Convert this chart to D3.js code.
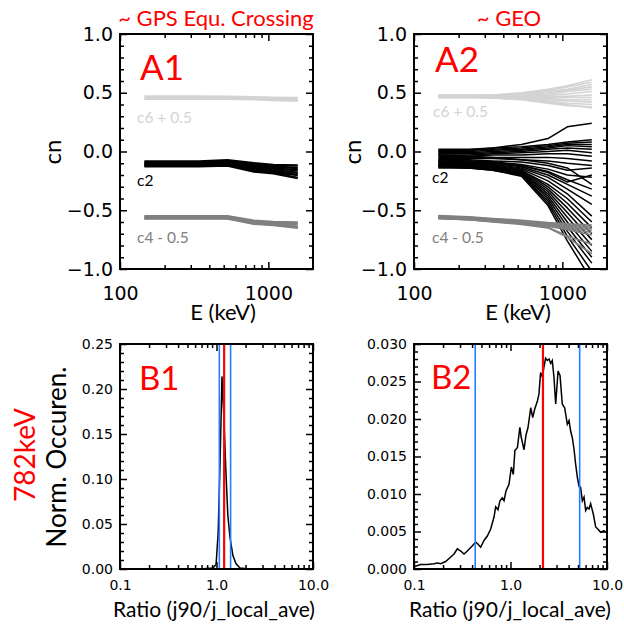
<!DOCTYPE html>
<html>
<head>
<meta charset="utf-8">
<title>cn and ratio</title>
<script src="https://cdn.jsdelivr.net/npm/d3@7"></script>
<style>
  body { margin: 0; background: #fff; }
  svg { display: block; }
  .tick text { font-family: 'DejaVu Sans', sans-serif; fill: #000; }
  .tick line { stroke: #000; stroke-width: 1.5; }
  .lbl { font-family: Lato, 'Open Sans', sans-serif; }
</style>
</head>
<body>
<div id="chart"></div>
<script>
// energies of the cn curves (keV)
var energies = [146, 235, 340, 530, 800, 1080, 1580];

// A1: GPS equatorial crossing
var a1C6 = [
  [0.468, 0.468, 0.468, 0.465, 0.462, 0.458, 0.455],
  [0.458, 0.458, 0.458, 0.455, 0.452, 0.446, 0.440],
  [0.450, 0.450, 0.450, 0.448, 0.445, 0.438, 0.432]
];
var a1C2 = [
  [-0.085, -0.085, -0.085, -0.075, -0.100, -0.115, -0.120],
  [-0.095, -0.095, -0.095, -0.085, -0.115, -0.130, -0.140],
  [-0.105, -0.105, -0.105, -0.095, -0.130, -0.145, -0.160],
  [-0.115, -0.115, -0.115, -0.105, -0.145, -0.160, -0.180],
  [-0.120, -0.120, -0.120, -0.115, -0.160, -0.175, -0.200],
  [-0.125, -0.125, -0.125, -0.120, -0.170, -0.185, -0.225]
];
var a1C4 = [
  [-0.550, -0.550, -0.550, -0.550, -0.590, -0.600, -0.605],
  [-0.558, -0.558, -0.558, -0.558, -0.600, -0.610, -0.620],
  [-0.565, -0.565, -0.565, -0.565, -0.610, -0.620, -0.640],
  [-0.570, -0.570, -0.570, -0.570, -0.615, -0.625, -0.650]
];

// A2: GEO
var a2C6 = [
  [0.480, 0.480, 0.480, 0.500, 0.530, 0.560, 0.610],
  [0.480, 0.480, 0.480, 0.490, 0.520, 0.550, 0.590],
  [0.475, 0.475, 0.480, 0.490, 0.510, 0.530, 0.570],
  [0.475, 0.475, 0.475, 0.485, 0.500, 0.520, 0.550],
  [0.470, 0.470, 0.475, 0.480, 0.490, 0.510, 0.530],
  [0.470, 0.470, 0.470, 0.475, 0.480, 0.490, 0.510],
  [0.470, 0.470, 0.470, 0.470, 0.470, 0.470, 0.480],
  [0.465, 0.465, 0.465, 0.465, 0.460, 0.460, 0.460],
  [0.465, 0.465, 0.465, 0.460, 0.450, 0.440, 0.440],
  [0.465, 0.465, 0.460, 0.455, 0.440, 0.430, 0.420],
  [0.460, 0.460, 0.460, 0.450, 0.430, 0.410, 0.400],
  [0.460, 0.460, 0.455, 0.445, 0.420, 0.400, 0.370],
  [0.460, 0.460, 0.455, 0.440, 0.410, 0.390, 0.380]
];
var a2C2 = [
  [0.00, 0.01, 0.03, 0.06, 0.11, 0.21, 0.24],
  [0.02, 0.02, 0.03, 0.04, 0.06, 0.08, 0.10],
  [0.01, 0.01, 0.02, 0.03, 0.05, 0.07, 0.08],
  [0.00, 0.00, 0.01, 0.02, 0.04, 0.06, 0.06],
  [-0.01, -0.01, 0.00, 0.01, 0.03, 0.05, 0.04],
  [-0.02, -0.02, -0.01, 0.00, 0.02, 0.03, 0.02],
  [-0.03, -0.03, -0.02, -0.01, 0.00, 0.01, -0.01],
  [-0.04, -0.04, -0.03, -0.03, -0.02, -0.02, -0.04],
  [-0.05, -0.05, -0.05, -0.05, -0.05, -0.06, -0.08],
  [-0.06, -0.06, -0.06, -0.07, -0.08, -0.10, -0.12],
  [-0.07, -0.07, -0.08, -0.09, -0.12, -0.16, -0.14],
  [-0.08, -0.08, -0.09, -0.11, -0.15, -0.20, -0.22],
  [-0.09, -0.09, -0.10, -0.12, -0.18, -0.26, -0.20],
  [-0.03, -0.04, -0.05, -0.07, -0.10, -0.14, -0.28],
  [-0.10, -0.10, -0.11, -0.15, -0.25, -0.36, -0.55],
  [-0.10, -0.11, -0.12, -0.16, -0.28, -0.40, -0.60],
  [-0.11, -0.11, -0.12, -0.16, -0.30, -0.44, -0.65],
  [-0.11, -0.12, -0.13, -0.17, -0.32, -0.48, -0.70],
  [-0.12, -0.12, -0.13, -0.18, -0.34, -0.52, -0.75],
  [-0.12, -0.13, -0.14, -0.18, -0.36, -0.56, -0.80],
  [-0.12, -0.13, -0.14, -0.19, -0.38, -0.60, -0.85],
  [-0.13, -0.13, -0.15, -0.19, -0.40, -0.64, -0.90],
  [-0.13, -0.14, -0.15, -0.20, -0.42, -0.68, -0.95],
  [-0.13, -0.14, -0.16, -0.20, -0.44, -0.72, -1.02],
  [-0.14, -0.14, -0.16, -0.21, -0.46, -0.76, -1.10],
  [-0.09, -0.10, -0.11, -0.14, -0.22, -0.32, -0.45],
  [-0.08, -0.09, -0.10, -0.13, -0.20, -0.28, -0.38],
  [-0.07, -0.08, -0.09, -0.12, -0.17, -0.24, -0.32]
];
var a2C4 = [
  [-0.545, -0.555, -0.570, -0.585, -0.605, -0.615, -0.625],
  [-0.550, -0.560, -0.575, -0.590, -0.610, -0.625, -0.640],
  [-0.555, -0.565, -0.580, -0.595, -0.615, -0.635, -0.655],
  [-0.560, -0.570, -0.585, -0.600, -0.620, -0.645, -0.670],
  [-0.565, -0.575, -0.590, -0.605, -0.630, -0.655, -0.690],
  [-0.570, -0.580, -0.595, -0.610, -0.635, -0.665, -0.710],
  [-0.570, -0.580, -0.595, -0.615, -0.645, -0.720, -0.790],
  [-0.570, -0.580, -0.600, -0.620, -0.650, -0.730, -0.870]
];

// B1 / B2: normalized occurrence of j90/j_local_ave at 782 keV
var b1Ratio = [0.1, 0.67, 0.92, 0.99, 1.04, 1.09, 1.14, 1.19, 1.25, 1.31, 1.38, 1.48, 1.59, 1.75, 2.2, 10];
var b1Occ   = [0, 0, 0.001, 0.005, 0.04, 0.12, 0.214, 0.17, 0.11, 0.06, 0.035, 0.015, 0.006, 0.001, 0, 0];
var b1Lines = { lo: 1.07, med: 1.20, hi: 1.40 };

var b2Ratio = [0.1, 0.117, 0.137, 0.161, 0.175, 0.189, 0.213, 0.240, 0.260, 0.281, 0.305, 0.330, 0.357,
  0.403, 0.436, 0.461, 0.491, 0.531, 0.575, 0.622, 0.674, 0.702, 0.741, 0.778, 0.822, 0.857, 0.898,
  0.965, 1.02, 1.07, 1.11, 1.18, 1.25, 1.29, 1.38, 1.45, 1.52, 1.62, 1.70, 1.78, 1.90, 1.97, 2.05,
  2.14, 2.22, 2.31, 2.41, 2.51, 2.61, 2.71, 2.82, 2.94, 3.11, 3.26, 3.44, 3.64, 3.88, 4.04, 4.20,
  4.37, 4.55, 4.73, 4.93, 5.13, 5.33, 5.55, 5.78, 6.01, 6.25, 6.51, 6.77, 7.22, 7.63, 8.07, 8.60,
  9.31, 9.69];
var b2Occ = [0.0003, 0.0006, 0.0006, 0.0007, 0.0008, 0.0007, 0.0010, 0.0016, 0.0020, 0.0027, 0.0024,
  0.0020, 0.0024, 0.0031, 0.0036, 0.0033, 0.0029, 0.0038, 0.0044, 0.0053, 0.0069, 0.0083, 0.0079,
  0.0091, 0.0095, 0.0091, 0.0104, 0.0113, 0.0136, 0.0126, 0.0158, 0.0162, 0.0189, 0.0176, 0.0159,
  0.0179, 0.0189, 0.0215, 0.0202, 0.0213, 0.0224, 0.0233, 0.0262, 0.0256, 0.0269, 0.0281, 0.0278,
  0.0280, 0.0274, 0.0278, 0.0256, 0.0220, 0.0264, 0.0258, 0.0220, 0.0215, 0.0193, 0.0198, 0.0184,
  0.0175, 0.0160, 0.0140, 0.0122, 0.0110, 0.0109, 0.0091, 0.0096, 0.0078, 0.0082, 0.0080, 0.0087,
  0.0073, 0.0056, 0.0053, 0.0049, 0.0051, 0.0049];
var b2Lines = { lo: 0.431, med: 2.17, hi: 5.21 };

var cnTicks = [-1, -0.5, 0, 0.5, 1];
var eTicks = [100, 1000];
var ratioTicks = [0.1, 1, 10];

var svg = d3.select('#chart').append('svg')
  .attr('width', 624).attr('height', 627);

var RED = '#ff0000', BLUE = '#1e7fff';

function makePanel(id, x0, x1, y0, y1, xDom, yDom) {
  var g = svg.append('g').attr('transform', 'translate(' + x0 + ',' + y0 + ')');
  var w = x1 - x0, h = y1 - y0;
  var x = d3.scaleLog().domain(xDom).range([0, w]);
  var y = d3.scaleLinear().domain(yDom).range([h, 0]);
  g.append('clipPath').attr('id', id).append('rect').attr('width', w).attr('height', h);
  var plot = g.append('g').attr('clip-path', 'url(#' + id + ')');
  return { g: g, plot: plot, x: x, y: y, w: w, h: h };
}

function logMinor(lo, hi) {
  var out = [];
  for (var d = lo; d < hi; d *= 10)
    for (var k = 2; k <= 9; k++) if (d * k < hi) out.push(d * k);
  return out;
}

function axes(p, o) {
  var g = p.g;
  var ax = g.append('g');
  var size = 7, msize = 4;
  ax.append('g').attr('transform', 'translate(0,' + p.h + ')')
    .call(d3.axisBottom(p.x).tickValues(o.xMajor).tickFormat(o.xFmt).tickSize(-size).tickPadding(o.xPad));
  ax.append('g').attr('transform', 'translate(0,' + p.h + ')')
    .call(d3.axisBottom(p.x).tickValues(o.xMinor).tickFormat('').tickSize(-msize));
  ax.append('g').call(d3.axisTop(p.x).tickValues(o.xMajor).tickFormat('').tickSize(-size));
  ax.append('g').call(d3.axisTop(p.x).tickValues(o.xMinor).tickFormat('').tickSize(-msize));
  ax.append('g')
    .call(d3.axisLeft(p.y).tickValues(o.yMajor).tickFormat(o.yFmt).tickSize(-size).tickPadding(7));
  ax.append('g').call(d3.axisLeft(p.y).tickValues(o.yMinor).tickFormat('').tickSize(-msize));
  ax.append('g').attr('transform', 'translate(' + p.w + ',0)')
    .call(d3.axisRight(p.y).tickValues(o.yMajor).tickFormat('').tickSize(-size));
  ax.append('g').attr('transform', 'translate(' + p.w + ',0)')
    .call(d3.axisRight(p.y).tickValues(o.yMinor).tickFormat('').tickSize(-msize));
  ax.selectAll('.domain').remove();
  ax.selectAll('.tick text').attr('font-size', o.fontSize);
  g.append('rect').attr('width', p.w).attr('height', p.h)
    .attr('fill', 'none').attr('stroke', '#000').attr('stroke-width', 2);
}

function minorLinear(lo, hi, step, major) {
  var out = [];
  var n = Math.round((hi - lo) / step);
  for (var i = 0; i <= n; i++) {
    var v = lo + i * step;
    var isMajor = Math.abs(v / major - Math.round(v / major)) < 1e-6;
    if (!isMajor) out.push(v);
  }
  return out;
}

function drawCurves(p, curves, color, width) {
  var line = d3.line()
    .x(function(d, i) { return p.x(energies[i]); })
    .y(function(d) { return p.y(d); });
  p.plot.selectAll(null).data(curves).enter().append('path')
    .attr('d', line).attr('fill', 'none')
    .attr('stroke', color).attr('stroke-width', width)
    .attr('stroke-linejoin', 'round');
}

function label(g, txt, x, y, size, color, anchor, rot) {
  var t = g.append('text').attr('class', 'lbl')
    .attr('x', x).attr('y', y)
    .attr('font-size', size).attr('fill', color || '#000')
    .attr('text-anchor', anchor || 'start')
    .text(txt);
  if (rot) t.attr('transform', 'rotate(' + rot + ',' + x + ',' + y + ')');
  return t;
}

// ---- top panels ----
var topOpts = {
  xMajor: eTicks, xMinor: logMinor(100, 2000), xFmt: d3.format('d'), xPad: 18,
  yMajor: cnTicks, yMinor: minorLinear(-1, 1, 0.1, 0.5), yFmt: d3.format('.1f'),
  fontSize: 19
};
var pA1 = makePanel('clipA1', 120, 313, 34, 269, [100, 2000], [-1, 1]);
drawCurves(pA1, a1C6, '#d3d3d3', 2.5);
drawCurves(pA1, a1C2, '#000', 2.5);
drawCurves(pA1, a1C4, '#808080', 2.5);
axes(pA1, topOpts);

var pA2 = makePanel('clipA2', 414, 607, 34, 269, [100, 2000], [-1, 1]);
drawCurves(pA2, a2C6, '#d3d3d3', 1.6);
drawCurves(pA2, a2C2, '#000', 1.5);
drawCurves(pA2, a2C4, '#808080', 1.6);
axes(pA2, topOpts);

// ---- bottom panels ----
var pB1 = makePanel('clipB1', 120, 313, 344, 569, [0.1, 10], [0, 0.25]);
var pB2 = makePanel('clipB2', 414, 607, 344, 569, [0.1, 10], [0, 0.03]);

function histo(p, xs, ys, lines) {
  var line = d3.line()
    .x(function(d, i) { return p.x(xs[i]); })
    .y(function(d) { return p.y(d); });
  p.plot.append('path').datum(ys).attr('d', line)
    .attr('fill', 'none').attr('stroke', '#000').attr('stroke-width', 1.5);
  [lines.lo, lines.hi].forEach(function(v) {
    p.plot.append('line').attr('x1', p.x(v)).attr('x2', p.x(v))
      .attr('y1', 0).attr('y2', p.h).attr('stroke', BLUE).attr('stroke-width', 1.6);
  });
  p.plot.append('line').attr('x1', p.x(lines.med)).attr('x2', p.x(lines.med))
    .attr('y1', 0).attr('y2', p.h).attr('stroke', RED).attr('stroke-width', 2.2);
}
histo(pB1, b1Ratio, b1Occ, b1Lines);
histo(pB2, b2Ratio, b2Occ, b2Lines);

axes(pB1, {
  xMajor: ratioTicks, xMinor: logMinor(0.1, 10), xFmt: d3.format('.1f'), xPad: 11,
  yMajor: d3.range(0, 0.2501, 0.05), yMinor: minorLinear(0, 0.25, 0.01, 0.05), yFmt: d3.format('.2f'),
  fontSize: 14
});
axes(pB2, {
  xMajor: ratioTicks, xMinor: logMinor(0.1, 10), xFmt: d3.format('.1f'), xPad: 11,
  yMajor: d3.range(0, 0.03001, 0.005), yMinor: minorLinear(0, 0.03, 0.001, 0.005), yFmt: d3.format('.3f'),
  fontSize: 14
});

// ---- texts ----
label(svg, '~ GPS Equ. Crossing', 216, 26, 22, RED, 'middle');
label(svg, '~ GEO', 509, 26, 22, RED, 'middle');

label(svg, 'A1', 140, 80, 35, RED);
label(svg, 'A2', 435, 72, 35, RED);
label(svg, 'B1', 139, 390, 33, RED);
label(svg, 'B2', 431, 389, 33, RED);

label(svg, 'c6 + 0.5', 137, 123, 15.5, '#d3d3d3');
label(svg, 'c2', 137, 186, 15.5, '#000');
label(svg, 'c4 - 0.5', 137, 243, 15.5, '#808080');
label(svg, 'c6 + 0.5', 433, 117, 15.5, '#d3d3d3');
label(svg, 'c2', 432, 183, 15.5, '#000');
label(svg, 'c4 - 0.5', 432, 243, 15.5, '#808080');

label(svg, 'cn', 61, 152, 24, '#000', 'middle', -90);
label(svg, 'cn', 361, 152, 24, '#000', 'middle', -90);
label(svg, 'E (keV)', 223, 320, 22, '#000', 'middle');
label(svg, 'E (keV)', 518, 320, 22, '#000', 'middle');

label(svg, 'Norm. Occuren.', 66, 457, 26, '#000', 'middle', -90);
label(svg, '782keV', 35, 455, 28, RED, 'middle', -90);
label(svg, 'Ratio (j90/j_local_ave)', 214, 617, 21, '#000', 'middle');
label(svg, 'Ratio (j90/j_local_ave)', 510, 617, 21, '#000', 'middle');
</script>
</body>
</html>
